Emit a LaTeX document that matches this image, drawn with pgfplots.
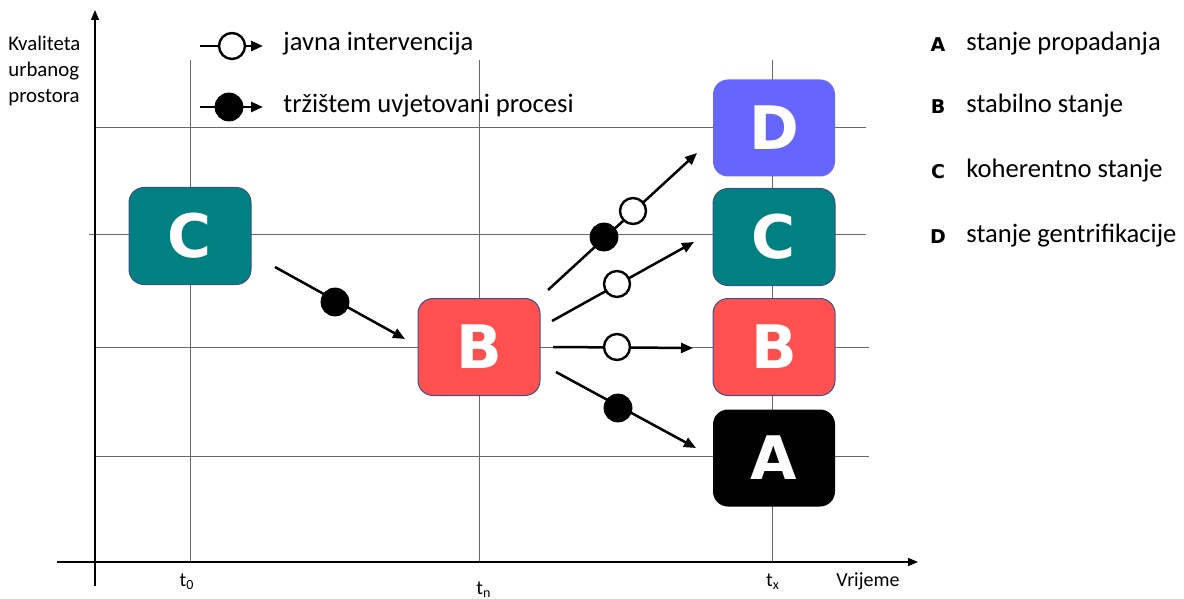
\documentclass[border=0pt]{standalone}
\usepackage{pgfplots}
\pgfplotsset{compat=1.18}
\usepackage{fontspec}
\setmainfont{Carlito}
\newfontfamily\boxfont{DejaVu Sans}[BoldFont={DejaVu Sans Bold}]
\usetikzlibrary{arrows.meta}
\definecolor{cteal}{RGB}{0,128,128}
\definecolor{cred}{RGB}{255,80,80}
\definecolor{cblue}{RGB}{102,102,255}
\definecolor{cborder}{RGB}{60,80,140}
\definecolor{cgrid}{RGB}{105,105,105}
\begin{document}
\begin{tikzpicture}
\useasboundingbox (0,0) rectangle (592pt,299.5pt);
\begin{axis}[
  at={(0,0)}, anchor=south west,
  scale only axis, width=592pt, height=299.5pt,
  xmin=0, xmax=1184, ymin=0, ymax=599, y dir=reverse,
  hide axis, clip=false,
  boxstyle/.style={only marks, mark=none, point meta=explicit symbolic, nodes near coords,
    nodes near coords style={anchor=center, rounded corners=7.5pt, minimum width=61pt, minimum height=48.5pt,
      inner sep=0pt, text=white, font=\boxfont\bfseries\fontsize{30}{30}\selectfont}},
  arr/.style={line width=1.25pt, -{Triangle[length=6pt,width=5pt]}},
  openc/.style={only marks, mark=*, mark size=6.5pt, mark options={fill=white, draw=black, line width=1.2pt}},
  fullc/.style={only marks, mark=*, mark size=7pt, mark options={fill=black, draw=black}},
  gl/.style={draw=cgrid, line width=0.5pt, mark=none},
]
% grid lines
\addplot[gl] coordinates {(190,60) (190,562)};
\addplot[gl] coordinates {(479,60) (479,562)};
\addplot[gl] coordinates {(772,60) (772,562)};
\addplot[gl] coordinates {(95,128) (866,128)};
\addplot[gl] coordinates {(89,234) (866,234)};
\addplot[gl] coordinates {(95,347) (869,347)};
\addplot[gl] coordinates {(95,456) (869,456)};
% axes
\addplot[black, line width=0.7pt, -{Triangle[length=5pt,width=4pt]}] coordinates {(95,586) (95,10)};
\addplot[black, line width=0.7pt, -{Triangle[length=5pt,width=4pt]}] coordinates {(57,562) (918,562)};
% boxes
\addplot[boxstyle, nodes near coords style={fill=cteal, draw=cborder, line width=0.5pt}] coordinates {(190,236)[C] (774,237)[C]};
\addplot[boxstyle, nodes near coords style={fill=cred, draw=cborder, line width=0.5pt}] coordinates {(479,347)[B] (774,347)[B]};
\addplot[boxstyle, nodes near coords style={fill=cblue}] coordinates {(774,128)[D]};
\addplot[boxstyle, nodes near coords style={fill=black}] coordinates {(774,458)[A]};
% arrows
\addplot[arr] coordinates {(275,267) (405,339)};
\addplot[arr] coordinates {(548,290) (697,153)};
\addplot[arr] coordinates {(552,321) (694,242)};
\addplot[arr] coordinates {(553,347) (693,348)};
\addplot[arr] coordinates {(556,372) (696,448)};
\addplot[arr] coordinates {(200,46) (263,46)};
\addplot[arr] coordinates {(200,107) (263,107)};
% circles
\addplot[fullc] coordinates {(335,302) (604,237) (618,408) (229,107)};
\addplot[openc] coordinates {(633,211) (617,284) (617,347) (232,46)};
% texts
\node[anchor=west, inner sep=0pt, font=\fontsize{13.3}{16}\selectfont] at (axis cs:283,44) {javna intervencija};
\node[anchor=west, inner sep=0pt, font=\fontsize{13.3}{16}\selectfont] at (axis cs:283,106) {tržištem uvjetovani procesi};
\node[anchor=north west, align=left, inner sep=0pt, font=\fontsize{10.4}{13}\selectfont] at (axis cs:8,36) {Kvaliteta\\urbanog\\prostora};
\node[anchor=center, font=\boxfont\bfseries\fontsize{9.5}{11}\selectfont] at (axis cs:938,45) {A};
\node[anchor=center, font=\boxfont\bfseries\fontsize{9.5}{11}\selectfont] at (axis cs:938,107) {B};
\node[anchor=center, font=\boxfont\bfseries\fontsize{9.5}{11}\selectfont] at (axis cs:938,172) {C};
\node[anchor=center, font=\boxfont\bfseries\fontsize{9.5}{11}\selectfont] at (axis cs:938,237) {D};
\node[anchor=west, inner sep=0pt, font=\fontsize{13.3}{16}\selectfont] at (axis cs:966,44) {stanje propadanja};
\node[anchor=west, inner sep=0pt, font=\fontsize{13.3}{16}\selectfont] at (axis cs:966,106) {stabilno stanje};
\node[anchor=west, inner sep=0pt, font=\fontsize{13.3}{16}\selectfont] at (axis cs:966,171) {koherentno stanje};
\node[anchor=west, inner sep=0pt, font=\fontsize{13.3}{16}\selectfont] at (axis cs:966,236) {stanje gentrifikacije};
\node[font=\fontsize{10}{12}\selectfont] at (axis cs:187,582) {t\textsubscript{0}};
\node[font=\fontsize{10}{12}\selectfont] at (axis cs:484,590) {t\textsubscript{n}};
\node[font=\fontsize{10}{12}\selectfont] at (axis cs:773,582) {t\textsubscript{x}};
\node[font=\fontsize{10}{12}\selectfont, anchor=west, inner sep=0pt] at (axis cs:836,581) {Vrijeme};
\end{axis}
\end{tikzpicture}
\end{document}
